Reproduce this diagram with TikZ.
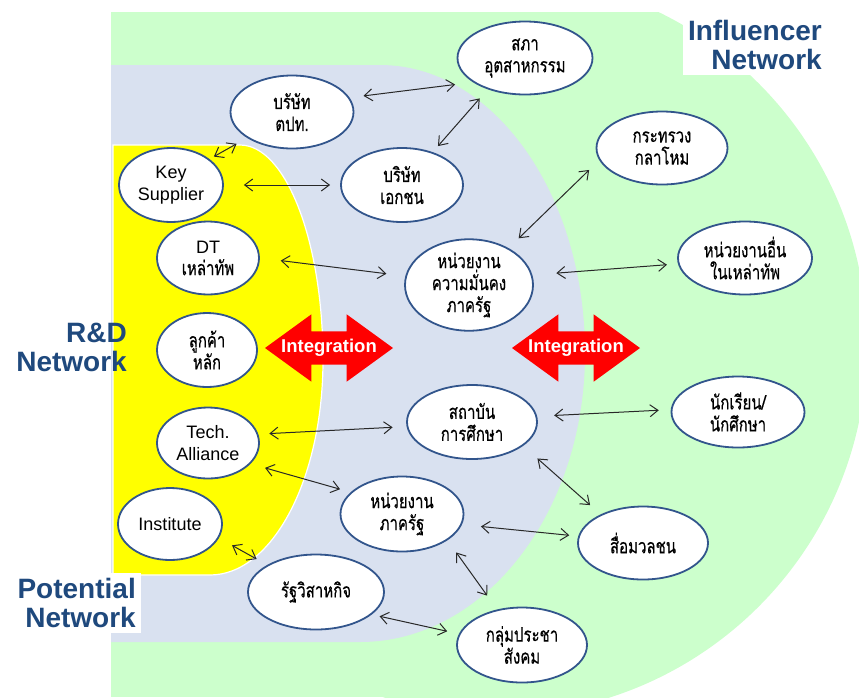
\documentclass[tikz,border=0pt]{standalone}
\usepackage{fontspec}
\setmainfont{Liberation Sans}
\newfontfamily\thaifont[Script=Thai,FakeStretch=0.75,FakeBold=0.4]{Loma}
\usetikzlibrary{arrows.meta,shapes.geometric,shapes.arrows}

\definecolor{outergreen}{RGB}{204,255,204}
\definecolor{midblue}{RGB}{217,225,240}
\definecolor{coreyellow}{RGB}{255,255,0}
\definecolor{unitblue}{RGB}{50,85,140}
\definecolor{titleblue}{RGB}{31,73,125}
\definecolor{integred}{RGB}{255,0,0}
\definecolor{linkgray}{RGB}{40,40,40}

\tikzset{
  unit/.style={ellipse, draw=unitblue, line width=1.8pt, fill=white, inner sep=0pt,
    minimum width=130pt, minimum height=73pt, align=center,
    font=\fontsize{18}{22}\selectfont},
  thaiunit/.style={unit, font=\thaifont\fontsize{20}{22}\selectfont},
  leftunit/.style={minimum width=102pt},
  link/.style={{Straight Barb[length=8pt,width=12pt]}-{Straight Barb[length=8pt,width=12pt]},
    line width=1pt, draw=linkgray},
  nettitle/.style={anchor=north east, align=right, inner sep=5pt, text=titleblue,
    font=\bfseries\fontsize{28}{29}\selectfont},
  integ/.style={double arrow, fill=integred, minimum height=128pt, minimum width=67pt,
    inner xsep=0pt, inner ysep=16.5pt, double arrow head extend=17pt,
    double arrow tip angle=72},
  integtext/.style={text=white, font=\bfseries\fontsize{18.5}{22}\selectfont}
}

\begin{document}
\begin{tikzpicture}[x=1pt,y=-1pt]
    \useasboundingbox (0,0) rectangle (859,697);

    % Influencer Network area
    \begin{scope}
      \clip (111,12) rectangle (859,697);
      \fill[outergreen] (111,12) rectangle (500,697);
      \fill[outergreen] (497,345) circle (370);
    \end{scope}

    % Potential Network area
    \fill[midblue] (111,65) -- (380,65)
      arc[start angle=-90,end angle=0,x radius=205,y radius=288]
      arc[start angle=0,end angle=90,x radius=225,y radius=289]
      -- (111,642) -- cycle;

    % R&D Network area
    \fill[coreyellow,draw=white,line width=1.2pt] (113,145) -- (240,145)
      arc[start angle=-90,end angle=0,x radius=83,y radius=215]
      arc[start angle=0,end angle=90,x radius=113,y radius=215]
      -- (113,575) -- cycle;

    % Integration arrows
    \node[integ] (intin) at (329,348) {};
    \node[integtext] at (intin) {Integration};
    \node[integ] (intout) at (576,348) {};
    \node[integtext] at (intout) {Integration};

    % R&D units
    \node[unit,leftunit,minimum width=104pt,minimum height=74pt] (keysup) at (171,185) {Key\\Supplier};
    \node[unit,leftunit] (dt) at (208,258) {DT\\{\thaifont\fontsize{20}{22}\selectfont เหล่าทัพ}};
    \node[thaiunit,leftunit,minimum width=100pt,minimum height=74pt] (customer) at (207,350) {ลูกค้า\\หลัก};
    \node[unit,leftunit,minimum height=71pt] (tech) at (208,443) {Tech.\\Alliance};
    \node[unit,leftunit,minimum width=104pt,minimum height=72pt] (institute) at (170,524) {Institute};

    % Potential units
    \node[thaiunit,minimum width=123pt] (tpt) at (292,112) {บรัษัท\\ตปท.};
    \node[thaiunit,minimum width=122pt,minimum height=74pt] (ekachon) at (402,185) {บริษัท\\เอกชน};
    \node[thaiunit,minimum width=128pt,minimum height=90pt] (security) at (469,285) {หน่วยงาน\\ความมั่นคง\\ภาครัฐ};
    \node[thaiunit,minimum height=74pt] (edu) at (472,422) {สถาบัน\\การศึกษา};
    \node[thaiunit,minimum width=123pt,minimum height=75pt] (govunit) at (402,514) {หน่วยงาน\\ภาครัฐ};
    \node[thaiunit,minimum width=136pt,minimum height=75pt] (soe) at (316,592) {รัฐวิสาหกิจ};

    % Influencer units
    \node[thaiunit,minimum width=135pt] (sapha) at (525,58) {สภา\\อุตสาหกรรม};
    \node[thaiunit,minimum width=131pt] (mod) at (662,148) {กระทรวง\\กลาโหม};
    \node[thaiunit,minimum width=134pt] (otherunit) at (745,258) {หน่วยงานอื่น\\ในเหล่าทัพ};
    \node[thaiunit,minimum width=133pt,minimum height=71pt] (student) at (738,412) {นักเรียน/\\นักศึกษา};
    \node[thaiunit] (media) at (643,543) {สื่อมวลชน};
    \node[thaiunit,minimum height=75pt] (civil) at (522,645) {กลุ่มประชา\\สังคม};

    % Links
    \draw[link,shorten <=14pt,shorten >=18pt] (tpt.14) -- (sapha.205);
    \draw[link,shorten <=5pt,shorten >=12pt] (keysup.34) -- (tpt.210);
    \draw[link,shorten <=20pt,shorten >=10pt] (keysup.0) -- (ekachon.180);
    \draw[link,shorten <=8pt,shorten >=12pt] (ekachon.47) -- (sapha.220);
    \draw[link,shorten <=21pt,shorten >=19pt] (dt.0) -- (security.172);
    \draw[link,shorten <=14pt,shorten >=14pt] (security.43) -- (mod.191);
    \draw[link,shorten <=24pt,shorten >=11pt] (security.9) -- (otherunit.185);
    \draw[link,shorten <=11pt,shorten >=14pt] (tech.10) -- (edu.184);
    \draw[link,shorten <=15pt,shorten >=11pt] (tech.-26) -- (govunit.157);
    \draw[link,shorten <=15pt,shorten >=12pt] (institute.-16) -- (soe.151);
    \draw[link,shorten <=17pt,shorten >=12pt] (edu.5) -- (student.178);
    \draw[link,shorten <=19pt,shorten >=14pt] (edu.-25) -- (media.146);
    \draw[link,shorten <=19pt,shorten >=9pt] (govunit.-10) -- (media.174);
    \draw[link,shorten <=15pt,shorten >=17pt] (govunit.-30) -- (civil.125);
    \draw[link,shorten <=8pt,shorten >=12pt] (soe.-22) -- (civil.170);

    % Network titles
    \node[nettitle,fill=white] (influencer) at (827,15) {Influencer\\Network};
    \node[nettitle] (rnd) at (132,318) {R\&D\\Network};
    \node[nettitle,fill=white] (potential) at (141,573) {Potential\\Network};
\end{tikzpicture}
\end{document}
